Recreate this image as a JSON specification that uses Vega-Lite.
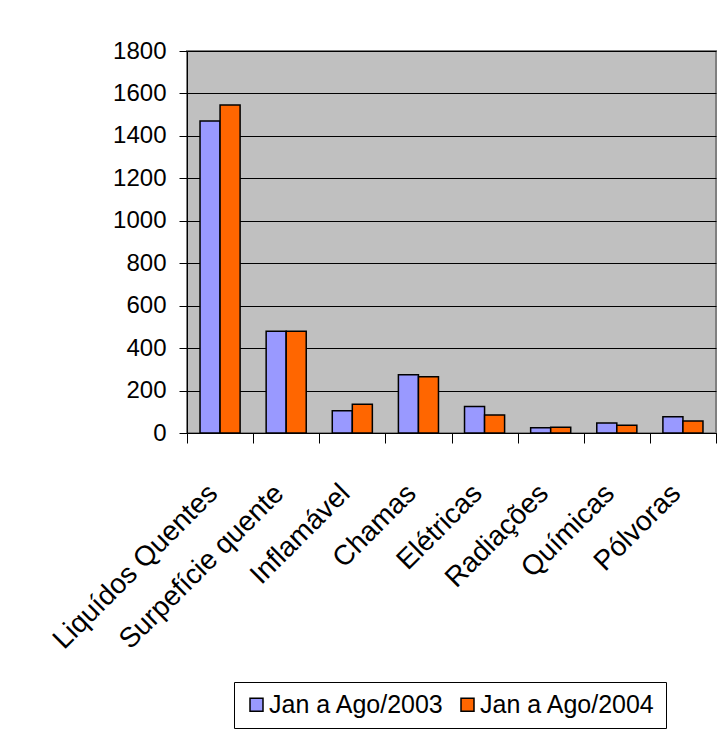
{
  "$schema": "https://vega.github.io/schema/vega-lite/v6.json",
  "width": 529,
  "height": 382,
  "autosize": {"type": "none"},
  "padding": {"left": 187, "top": 51, "right": 7, "bottom": 302},
  "background": "white",
  "data": {
    "values": [
      {"categoria": "Liquídos Quentes", "serie": "Jan a Ago/2003", "valor": 1470},
      {"categoria": "Liquídos Quentes", "serie": "Jan a Ago/2004", "valor": 1545},
      {"categoria": "Surpefície quente", "serie": "Jan a Ago/2003", "valor": 480},
      {"categoria": "Surpefície quente", "serie": "Jan a Ago/2004", "valor": 480},
      {"categoria": "Inflamável", "serie": "Jan a Ago/2003", "valor": 105},
      {"categoria": "Inflamável", "serie": "Jan a Ago/2004", "valor": 135},
      {"categoria": "Chamas", "serie": "Jan a Ago/2003", "valor": 275},
      {"categoria": "Chamas", "serie": "Jan a Ago/2004", "valor": 265},
      {"categoria": "Elétricas", "serie": "Jan a Ago/2003", "valor": 125},
      {"categoria": "Elétricas", "serie": "Jan a Ago/2004", "valor": 85},
      {"categoria": "Radiações", "serie": "Jan a Ago/2003", "valor": 25},
      {"categoria": "Radiações", "serie": "Jan a Ago/2004", "valor": 27},
      {"categoria": "Químicas", "serie": "Jan a Ago/2003", "valor": 47},
      {"categoria": "Químicas", "serie": "Jan a Ago/2004", "valor": 36},
      {"categoria": "Pólvoras", "serie": "Jan a Ago/2003", "valor": 76},
      {"categoria": "Pólvoras", "serie": "Jan a Ago/2004", "valor": 57}
    ]
  },
  "mark": {"type": "bar", "stroke": "black", "strokeWidth": 1.5},
  "encoding": {
    "x": {
      "field": "categoria",
      "type": "nominal",
      "sort": null,
      "scale": {"paddingInner": 0, "paddingOuter": 0},
      "axis": {
        "title": null,
        "labelAngle": -45,
        "labelAlign": "right",
        "labelBaseline": "middle",
        "labelFont": "Liberation Sans",
        "labelFontSize": 28,
        "labelColor": "black",
        "labelPadding": 46,
        "labelOffset": -7,
        "labelLimit": 0,
        "labelOverlap": false,
        "tickBand": "extent",
        "tickColor": "black",
        "tickSize": 10,
        "domainColor": "black",
        "grid": false
      }
    },
    "xOffset": {
      "field": "serie",
      "type": "nominal",
      "scale": {"paddingInner": 0, "paddingOuter": 0.65}
    },
    "y": {
      "field": "valor",
      "type": "quantitative",
      "scale": {"domain": [0, 1800], "nice": false},
      "axis": {
        "title": null,
        "values": [0, 200, 400, 600, 800, 1000, 1200, 1400, 1600, 1800],
        "format": "d",
        "labelFont": "Liberation Sans",
        "labelFontSize": 24,
        "labelColor": "black",
        "labelPadding": 13,
        "tickColor": "black",
        "tickSize": 8,
        "domainColor": "black",
        "grid": true,
        "gridColor": "black",
        "gridOpacity": 1,
        "gridWidth": 1
      }
    },
    "color": {
      "field": "serie",
      "type": "nominal",
      "scale": {"domain": ["Jan a Ago/2003", "Jan a Ago/2004"], "range": ["#9999FF", "#FF6600"]},
      "legend": {
        "title": null,
        "orient": "none",
        "legendX": 47,
        "legendY": 631,
        "direction": "horizontal",
        "strokeColor": "black",
        "padding": 10,
        "symbolType": "square",
        "symbolSize": 169,
        "symbolStrokeColor": "black",
        "symbolStrokeWidth": 1.5,
        "symbolOpacity": 1,
        "labelFont": "Liberation Sans",
        "labelFontSize": 25,
        "labelColor": "black",
        "labelOffset": 0,
        "labelLimit": 0,
        "columnPadding": 10
      }
    }
  },
  "config": {
    "view": {"fill": "#C0C0C0", "stroke": "#808080", "strokeWidth": 2},
    "axis": {"domainWidth": 1, "tickWidth": 1}
  }
}
